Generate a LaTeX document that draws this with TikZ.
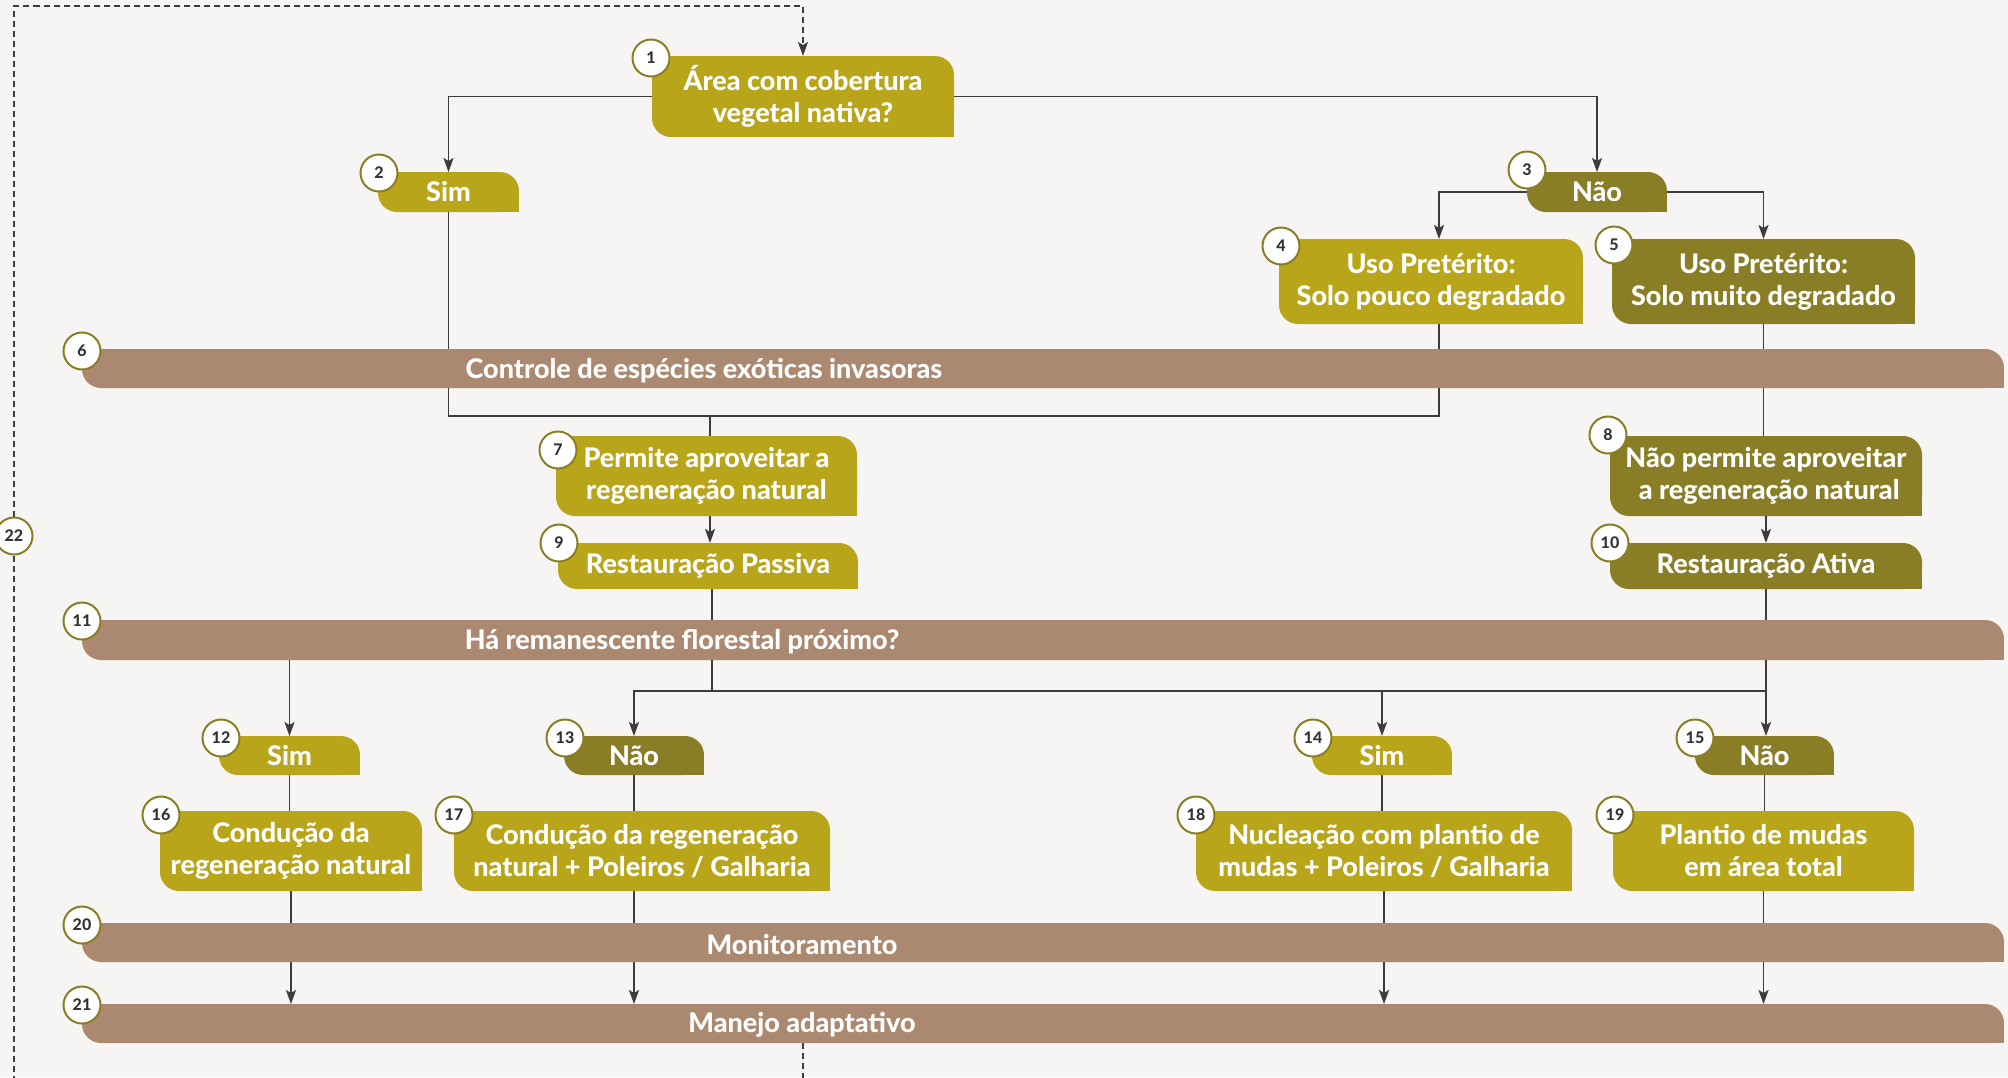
\documentclass[tikz,border=0pt]{standalone}
\usepackage{fontspec}
\setmainfont{Lato}
\IfFontExistsTF{Lato Heavy}{\newfontfamily\lblfont{Lato Heavy}}{\newfontfamily\lblfont{Lato}[UprightFont={* Bold},FakeBold=0.6]}
\usetikzlibrary{arrows.meta}
\pgfdeclarelayer{bg}
\pgfsetlayers{bg,main}
\definecolor{olv}{HTML}{B8A51A}
\definecolor{dolv}{HTML}{897E25}
\definecolor{brn}{HTML}{AB8970}
\definecolor{paper}{HTML}{F6F5F3}
\definecolor{ink}{HTML}{3C3C3C}
\definecolor{numc}{HTML}{333333}
\tikzset{
  tab/.style={rectangle, inner sep=0pt, outer sep=0pt, text=white, align=center,
    font=\lblfont\fontsize{27}{32}\selectfont,
    path picture={
      \fill[#1, rounded corners=19pt] (path picture bounding box.south west) rectangle (path picture bounding box.north east);
      \fill[#1] (path picture bounding box.north west) rectangle ([xshift=21pt,yshift=-21pt]path picture bounding box.north west);
      \fill[#1] (path picture bounding box.south east) rectangle ([xshift=-21pt,yshift=21pt]path picture bounding box.south east);
    }},
  bar/.style={tab=brn, minimum width=1922pt, minimum height=39pt},
  bartext/.style={inner sep=0pt, text=white, font=\lblfont\fontsize{27}{32}\selectfont},
  num/.style={circle, draw=dolv, line width=2pt, fill=white, minimum size=37pt, inner sep=0pt,
    font=\lblfont\fontsize{16}{16}\selectfont, text=numc},
  conn/.style={draw=ink, line width=1.8pt},
  arr/.style={-{Stealth[length=14pt,width=10pt,inset=3pt]}},
  dline/.style={draw=ink, line width=1.3pt, dash pattern=on 6pt off 4pt},
}
\begin{document}
\begin{tikzpicture}[x=1pt,y=-1pt]
\useasboundingbox (0,0) rectangle (2008,1077);
\begin{pgfonlayer}{bg}
\fill[paper] (0,0) rectangle (2008,1077);
\end{pgfonlayer}

% boxes
\node[tab=olv, minimum width=302pt, minimum height=81pt] (b1) at (803,96.5) {Área com cobertura\\vegetal nativa?};
\node[tab=olv, minimum width=141pt, minimum height=40pt] (b2) at (448.5,192) {Sim};
\node[tab=dolv, minimum width=140pt, minimum height=40pt] (b3) at (1597,192) {Não};
\node[tab=olv, minimum width=304pt, minimum height=85pt] (b4) at (1431,281.5) {Uso Pretérito:\\Solo pouco degradado};
\node[tab=dolv, minimum width=303pt, minimum height=85pt] (b5) at (1763.5,281.5) {Uso Pretérito:\\Solo muito degradado};
\node[tab=olv, minimum width=301pt, minimum height=80pt] (b7) at (706.5,476) {Permite aproveitar a\\regeneração natural};
\node[tab=dolv, minimum width=312pt, minimum height=80pt] (b8) at (1766,476) {Não permite aproveitar\\\ a regeneração natural};
\node[tab=olv, minimum width=300pt, minimum height=46pt] (b9) at (708,566) {Restauração Passiva};
\node[tab=dolv, minimum width=312pt, minimum height=46pt] (b10) at (1766,566) {Restauração Ativa};
\node[tab=olv, minimum width=141pt, minimum height=39pt] (b12) at (289.5,755.5) {Sim};
\node[tab=dolv, minimum width=140pt, minimum height=39pt] (b13) at (634,755.5) {Não};
\node[tab=olv, minimum width=140pt, minimum height=39pt] (b14) at (1382,755.5) {Sim};
\node[tab=dolv, minimum width=139pt, minimum height=39pt] (b15) at (1764.5,755.5) {Não};
\node[tab=olv, minimum width=262pt, minimum height=80pt] (b16) at (291,851) {Condução da\\regeneração natural};
\node[tab=olv, minimum width=376pt, minimum height=80pt] (b17) at (642,851) {Condução da regeneração\\natural + Poleiros / Galharia};
\node[tab=olv, minimum width=376pt, minimum height=80pt] (b18) at (1384,851) {Nucleação com plantio de\\mudas + Poleiros / Galharia};
\node[tab=olv, minimum width=301pt, minimum height=80pt] (b19) at (1763.5,851) {Plantio de mudas\\em área total};

% bars
\node[bar] (bar6) at (1043,368.5) {};
\node[bar, minimum height=40pt] (bar11) at (1043,640) {};
\node[bar] (bar20) at (1043,942.5) {};
\node[bar] (bar21) at (1043,1023.5) {};
\node[bartext] (t6) at (704,371) {Controle de espécies exóticas invasoras};
\node[bartext] (t11) at (682,642) {Há remanescente florestal próximo?};
\node[bartext] (t20) at (802,945) {Monitoramento};
\node[bartext] (t21) at (802,1025) {Manejo adaptativo};

% number circles
\node[num] (c1) at (651,58) {1};
\node[num] (c2) at (379,173) {2};
\node[num] (c3) at (1527,170) {3};
\node[num] (c4) at (1281,246) {4};
\node[num] (c5) at (1614,245) {5};
\node[num] (c6) at (82,351) {6};
\node[num] (c7) at (558,450) {7};
\node[num] (c8) at (1608,435) {8};
\node[num] (c9) at (559,543) {9};
\node[num] (c10) at (1610,543) {10};
\node[num] (c11) at (82,621) {11};
\node[num] (c12) at (221,738) {12};
\node[num] (c13) at (565,738) {13};
\node[num] (c14) at (1313,738) {14};
\node[num] (c15) at (1695,738) {15};
\node[num] (c16) at (161,815) {16};
\node[num] (c17) at (454,815) {17};
\node[num] (c18) at (1196,815) {18};
\node[num] (c19) at (1615,815) {19};
\node[num] (c20) at (82,925) {20};
\node[num] (c21) at (82,1005) {21};
\node[num] (c22) at (14,536) {22};

% connectors
\begin{pgfonlayer}{bg}
\coordinate (m1) at (710,416);
\coordinate (m2) at (712,691);
\draw[conn, arr] (b1.west) -| (b2.north);
\draw[conn, arr] (b1.east) -| (b3.north);
\draw[conn, arr] (b3.west) -| ([xshift=8pt]b4.north);
\draw[conn, arr] (b3.east) -| (b5.north);
\draw[conn] (b2.south) |- (m1) -| ([xshift=8pt]b4.south);
\draw[conn] (m1) -- (m1 |- b7.north);
\draw[conn] (b5.south) -- (b5.south |- b8.north);
\draw[conn, arr] (m1 |- b7.south) -- (m1 |- b9.north);
\draw[conn, arr] (b8.south) -- (b10.north);
\draw[conn] (m2 |- b9.south) -- (m2);
\draw[conn, arr] (m2) -| (b13.north);
\draw[conn, arr] (m2) -| (b14.north);
\draw[conn] (m2) -- (m2 -| b15.north);
\draw[conn, arr] (b10.south) -- (b10.south |- b15.north);
\draw[conn, arr] (bar11.south -| b12.north) -- (b12.north);
\draw[conn] (b12.south) -- (b12.south |- b16.north);
\draw[conn] (b13.south) -- (b13.south |- b17.north);
\draw[conn] (b14.south) -- (b14.south |- b18.north);
\draw[conn] (b15.south) -- (b15.south |- b19.north);
\draw[conn, arr] (b16.south) -- (b16.south |- bar21.north);
\draw[conn, arr] (b13.south |- b17.south) -- (b13.south |- bar21.north);
\draw[conn, arr] (b18.south) -- (b18.south |- bar21.north);
\draw[conn, arr] (b19.south) -- (b19.south |- bar21.north);
\draw[dline] (bar21.south -| b1.north) -- ++(0,60) -| (c22.south);
\draw[dline, arr] (c22.north) |- (b1.north |- 0,6) -- (b1.north);
\end{pgfonlayer}
\end{tikzpicture}
\end{document}
